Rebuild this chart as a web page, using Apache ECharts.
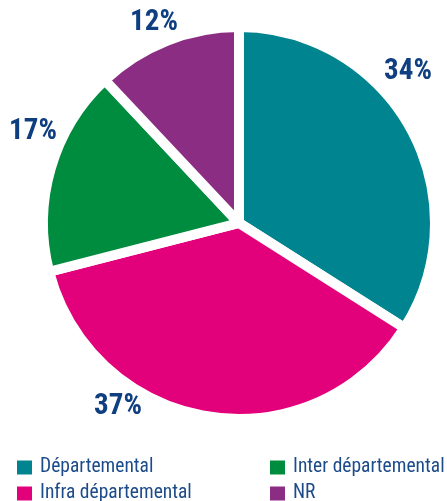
<!DOCTYPE html>
<html><head><meta charset="utf-8">
<script src="https://cdn.jsdelivr.net/npm/echarts@6/dist/echarts.min.js"></script>
<style>html,body{margin:0;padding:0;background:#fff}#c{width:447px;height:501px}</style>
</head><body><div id="c"></div>
<script>
var categories = ['Départemental', 'Infra départemental', 'Inter départemental', 'NR'];
var values = [34, 37, 17, 12];
var colors = ['#00848F', '#E3007B', '#008C3E', '#8C2D84'];
var FONT = '"Roboto Condensed", "Roboto", sans-serif';
var TEXT = '#1C4B8A';

// label centres (layout), in the same order as categories
var labelAnchors = [[408, 72], [118, 407], [33, 132], [154, 23]];
// legend layout: [left, top] per category
var legendPos = [[17, 457], [17, 483], [270, 457], [270, 483]];

var chart = echarts.init(document.getElementById('c'));
chart.setOption({
  animation: false,
  legend: categories.map(function(c, i){
    return {
      data: [c], left: legendPos[i][0], top: legendPos[i][1],
      itemWidth: 15, itemHeight: 14, icon: 'rect', padding: 0,
      selectedMode: false,
      itemStyle: {borderWidth: 0},
      textStyle: {color: TEXT, fontSize: 19.5, lineHeight: 21, fontFamily: FONT, padding: [0, 0, 0, 3]}
    };
  }),
  series: [{
    type: 'pie',
    center: [239, 223],
    radius: [0, 196],
    startAngle: 90,
    clockwise: true,
    avoidLabelOverlap: false,
    label: {
      show: true, position: 'outside', overflow: 'none',
      formatter: function(p){ return p.value + '%'; },
      color: '#0F3F80', fontSize: 29, fontWeight: 'bold', fontFamily: FONT
    },
    labelLine: {show: false},
    labelLayout: function(p){
      var a = labelAnchors[p.dataIndex];
      return {x: a[0], y: a[1], align: 'center', verticalAlign: 'middle', hideOverlap: false};
    },
    itemStyle: {borderColor: '#fff', borderWidth: 10},
    emphasis: {disabled: true},
    data: categories.map(function(c, i){ return {name: c, value: values[i], itemStyle: {color: colors[i]}}; })
  }]
});
</script></body></html>
